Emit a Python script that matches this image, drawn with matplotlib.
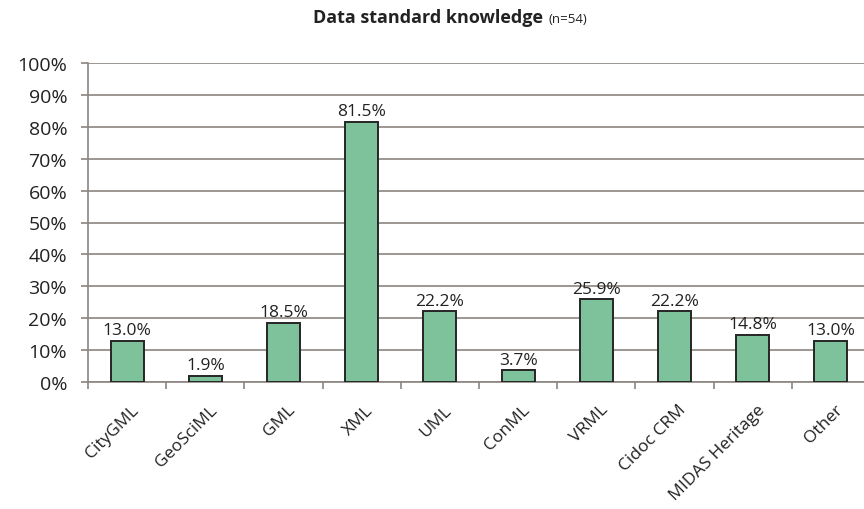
import matplotlib
matplotlib.use("Agg")
import matplotlib.pyplot as plt
import numpy as np

categories = ["CityGML", "GeoSciML", "GML", "XML", "UML", "ConML", "VRML",
              "Cidoc CRM", "MIDAS Heritage", "Other"]
values = [13.0, 1.9, 18.5, 81.5, 22.2, 3.7, 25.9, 22.2, 14.8, 13.0]
yticks = list(range(0, 101, 10))

plt.rcParams['font.family'] = ['Open Sans', 'DejaVu Sans']

fig = plt.figure(figsize=(8.64, 5.10), dpi=100)
ax = fig.add_axes([88/864, 1-383/510, 782/864, (383-64)/510])

x = np.arange(len(categories))
ax.bar(x + 0.5, values, width=0.42, color="#7dc29a", edgecolor="#262626",
       linewidth=1.4, zorder=3)
for xi, v in zip(x, values):
    ax.text(xi + 0.5, v + 0.8, f"{v:.1f}%", ha="center", va="bottom",
            fontsize=12.5, color="#222222")

ax.set_xlim(0, len(categories))
ax.set_ylim(0, 100)
ax.set_yticks(yticks)
ax.set_yticklabels([f"{t}%" for t in yticks], fontsize=14, color="#222222")
ax.set_xticks(np.arange(len(categories) + 1))
ax.set_xticklabels([])
ax.set_xticks(x + 0.55, minor=True)
ax.set_xticklabels(categories, minor=True, rotation=45, ha="right",
                   rotation_mode="anchor", fontsize=12.5, color="#222222")
ax.tick_params(axis="x", which="minor", length=0, pad=14)
ax.tick_params(axis="x", which="major", length=5, color="#8c8580", width=1.2)
ax.tick_params(axis="y", length=5, color="#8c8580", width=1.2, pad=10)

ax.grid(axis="y", color="#8c8580", linewidth=1.2, zorder=0)
for s in ["top", "right"]:
    ax.spines[s].set_visible(False)
for s in ["left", "bottom"]:
    ax.spines[s].set_color("#8c8580")
    ax.spines[s].set_linewidth(1.2)

fig.text(0.628, 0.965, "Data standard knowledge", ha="right", va="center",
         fontsize=13, fontweight="bold", color="#222222")
fig.text(0.635, 0.962, "(n=54)", ha="left", va="center", fontsize=9.5,
         color="#222222")

fig.savefig("out.png", dpi=100)
